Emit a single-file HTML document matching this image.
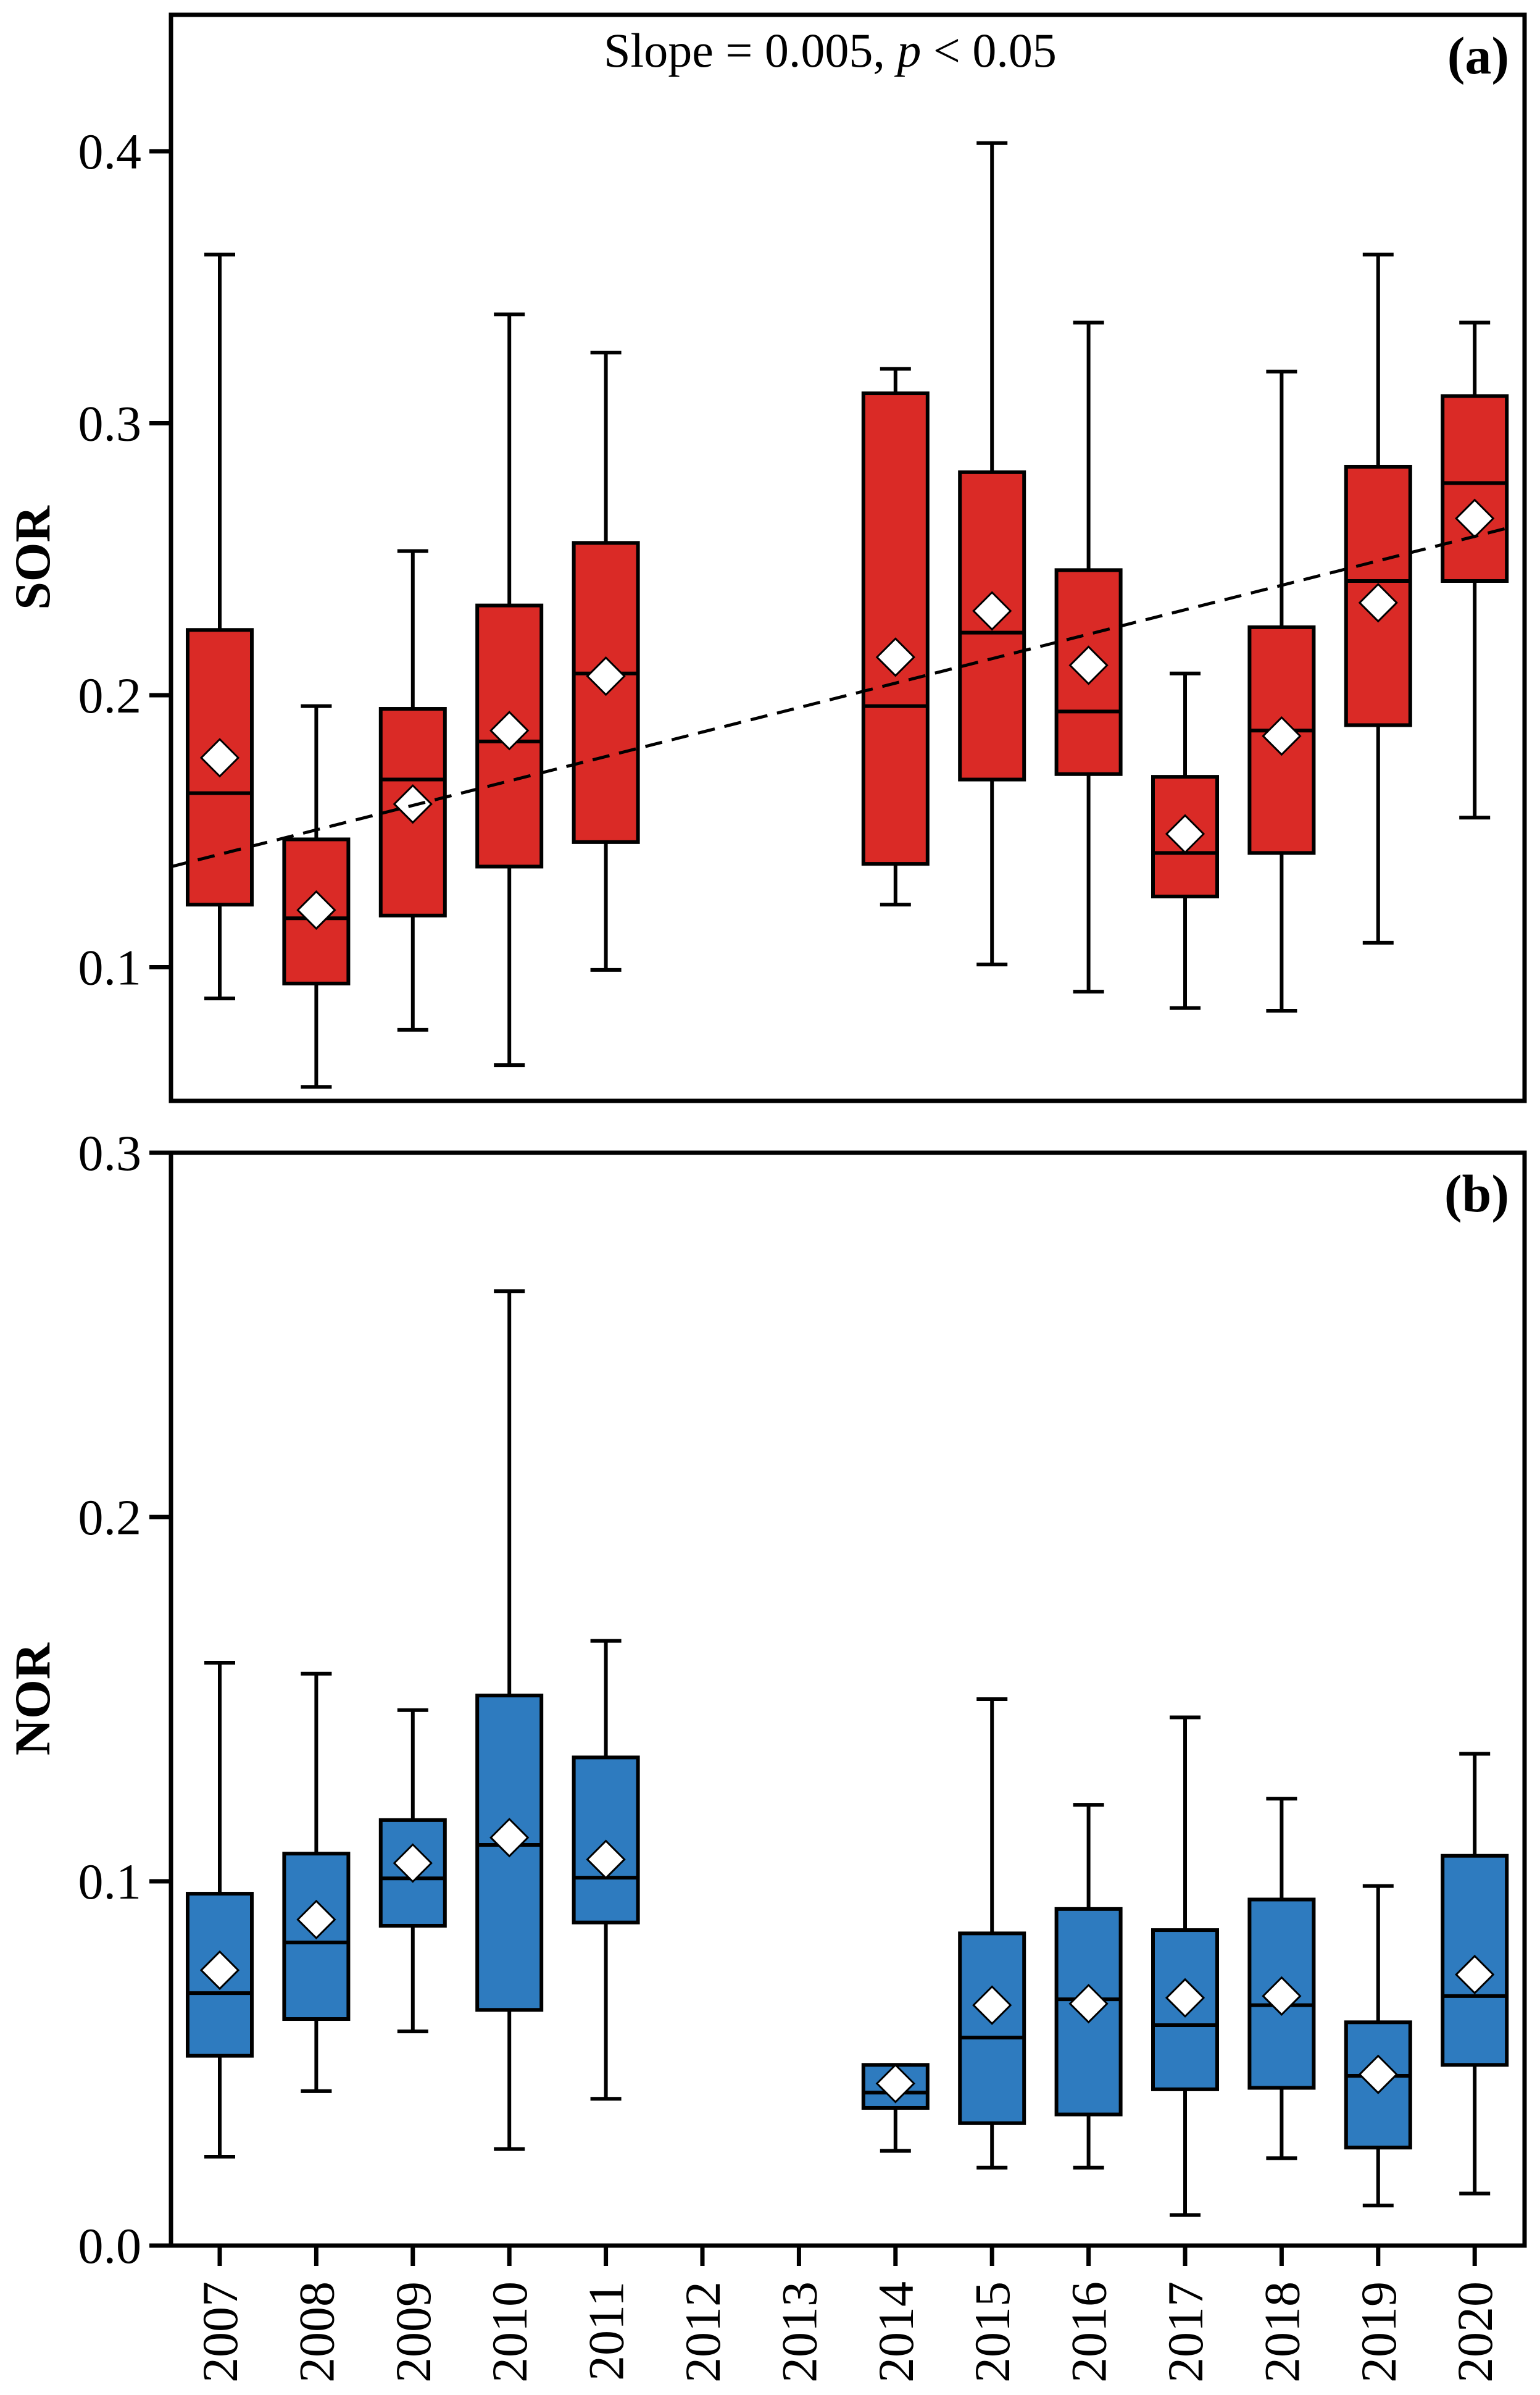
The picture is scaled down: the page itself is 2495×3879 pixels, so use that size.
<!DOCTYPE html>
<html><head><meta charset="utf-8"><style>
html,body{margin:0;padding:0;background:#fff;}
svg{display:block;font-family:"Liberation Serif","Times New Roman",serif;}
svg text{font-family:"Liberation Serif","Times New Roman",serif;}
</style></head><body>
<svg id="chart" width="2495" height="3879" viewBox="0 0 2495 3879" xmlns="http://www.w3.org/2000/svg" font-family="Liberation Serif, serif"></svg>
<script>
const years=[2007,2008,2009,2010,2011,2012,2013,2014,2015,2016,2017,2018,2019,2020];
const sorYears=[2007,2008,2009,2010,2011,2014,2015,2016,2017,2018,2019,2020];
const sorMax=[0.362,0.196,0.253,0.340,0.326,0.320,0.403,0.337,0.208,0.319,0.362,0.337];
const sorQ3=[0.224,0.147,0.195,0.233,0.256,0.311,0.282,0.246,0.170,0.225,0.284,0.310];
const sorMed=[0.164,0.118,0.169,0.183,0.208,0.196,0.223,0.194,0.142,0.187,0.242,0.278];
const sorQ1=[0.123,0.094,0.119,0.137,0.146,0.138,0.169,0.171,0.126,0.142,0.189,0.242];
const sorMin=[0.0885,0.056,0.077,0.064,0.099,0.123,0.101,0.091,0.085,0.084,0.109,0.155];
const sorMean=[0.177,0.121,0.160,0.187,0.207,0.214,0.231,0.211,0.149,0.185,0.234,0.265];
const norYears=[2007,2008,2009,2010,2011,2014,2015,2016,2017,2018,2019,2020];
const norMax=[0.160,0.157,0.147,0.262,0.166,0.0496,0.150,0.121,0.145,0.1227,0.0987,0.135];
const norQ3=[0.0966,0.1076,0.1168,0.151,0.134,0.0496,0.0857,0.0924,0.0866,0.095,0.0613,0.107];
const norMed=[0.0693,0.0832,0.1008,0.110,0.101,0.042,0.0571,0.0676,0.0605,0.066,0.0466,0.0685];
const norQ1=[0.0521,0.0622,0.0878,0.0647,0.0887,0.0378,0.0336,0.036,0.0429,0.0433,0.0269,0.0496];
const norMin=[0.0244,0.0424,0.0588,0.0265,0.0403,0.026,0.0214,0.0214,0.0084,0.024,0.011,0.0143];
const norMean=[0.0756,0.0895,0.105,0.112,0.106,0.0445,0.066,0.0664,0.068,0.0685,0.047,0.0744];
const sorTicks=[0.1,0.2,0.3,0.4];
const norTicks=[0.0,0.1,0.2,0.3];
const trendStart=[2006.5,0.137];
const trendEnd=[2020.4,0.262];

const NS="http://www.w3.org/2000/svg";
const FF='"Liberation Serif", "Times New Roman", serif';
const svg=document.getElementById('chart');
function mk(tag,attrs,parent){const e=document.createElementNS(NS,tag);for(const k in attrs)e.setAttribute(k,attrs[k]);if(tag==='text')e.style.fontFamily=FF;(parent||svg).appendChild(e);return e;}
const L=277,R=2470;
const xs=y=>356+(y-2007)*156.4;
const ya=v=>245+(0.4-v)*4405;
const yb=v=>3637-v*5900;
const BW=104,CAP=50,D=30,SW=6;

function panel(name,top,bottom,yf,ticks,ys,mx,q3,md,q1,mn,mean,color,label,letter){
  const g=mk('g',{});
  
  
  for(let i=0;i<ys.length;i++){
    const x=xs(ys[i]);
    const bg=mk('g',{},g);
    
    
    mk('line',{x1:x,x2:x,y1:yf(mx[i]),y2:yf(q3[i]),stroke:'#000','stroke-width':SW},bg);
    mk('line',{x1:x,x2:x,y1:yf(q1[i]),y2:yf(mn[i]),stroke:'#000','stroke-width':SW},bg);
    mk('line',{x1:x-CAP/2,x2:x+CAP/2,y1:yf(mx[i]),y2:yf(mx[i]),stroke:'#000','stroke-width':SW},bg);
    mk('line',{x1:x-CAP/2,x2:x+CAP/2,y1:yf(mn[i]),y2:yf(mn[i]),stroke:'#000','stroke-width':SW},bg);
    mk('rect',{x:x-BW/2,y:yf(q3[i]),width:BW,height:yf(q1[i])-yf(q3[i]),fill:color,stroke:'#000','stroke-width':SW},bg);
    mk('line',{x1:x-BW/2,x2:x+BW/2,y1:yf(md[i]),y2:yf(md[i]),stroke:'#000','stroke-width':SW},bg);
    const my=yf(mean[i]);
    const dm=mk('polygon',{points:`${x},${my-D} ${x+D},${my} ${x},${my+D} ${x-D},${my}`,fill:'#fff',stroke:'#000','stroke-width':3},bg);
    
    
  }
  const fr=mk('rect',{x:L,y:top,width:R-L,height:bottom-top,fill:'none',stroke:'#000','stroke-width':7},g);
  
  
  for(const t of ticks){
    const y=yf(t);
    mk('line',{x1:L-35,x2:L,y1:y,y2:y,stroke:'#000','stroke-width':7},g);
    const tx=mk('text',{x:L-48,y:y+28,'text-anchor':'end','font-size':82},g);
    tx.textContent=t.toFixed(1);
    
    
  }
  const cy=(top+bottom)/2;
  const yl=mk('text',{x:0,y:0,transform:`translate(80,${cy}) rotate(-90)`,'text-anchor':'middle','font-size':82,'font-weight':'bold'},g);
  yl.textContent=label;
  
  
  const pl=mk('text',{x:2445,y:top+95,'text-anchor':'end','font-size':86,'font-weight':'bold'},g);
  pl.textContent=letter;
  
  
  return g;
}
panel('panel-a-sor',24,1783,ya,sorTicks,sorYears,sorMax,sorQ3,sorMed,sorQ1,sorMin,sorMean,'#DA2A26','SOR','(a)');
const tl=mk('line',{x1:xs(trendStart[0]),y1:ya(trendStart[1]),x2:xs(trendEnd[0]),y2:ya(trendEnd[1]),stroke:'#000','stroke-width':5,'stroke-dasharray':'28,16'});


const st=mk('text',{x:1345,y:108,'text-anchor':'middle','font-size':78});
st.innerHTML='Slope = 0.005, <tspan font-style="italic">p</tspan> &lt; 0.05';


panel('panel-b-nor',1867,3637,yb,norTicks,norYears,norMax,norQ3,norMed,norQ1,norMin,norMean,'#2E7BBF','NOR','(b)');
for(const y of years){
  const x=xs(y);
  mk('line',{x1:x,x2:x,y1:3637,y2:3670,stroke:'#000','stroke-width':7});
  const t=mk('text',{x:0,y:0,transform:`translate(${x+28},3695) rotate(-90)`,'text-anchor':'end','font-size':82});
  t.textContent=y;
  
  
}
</script>
</body></html>
